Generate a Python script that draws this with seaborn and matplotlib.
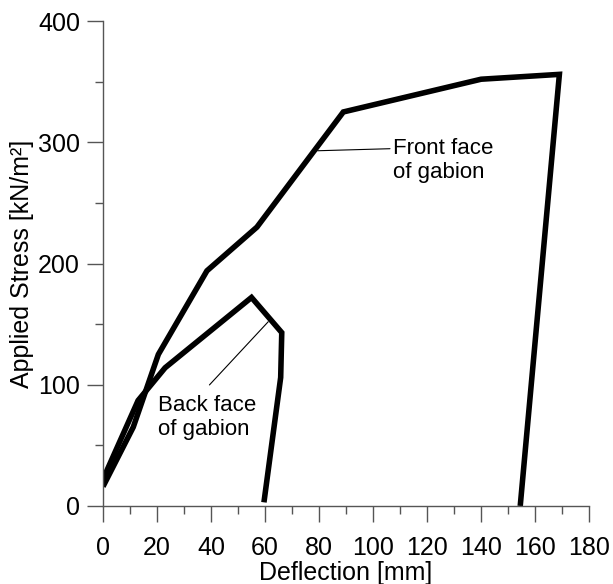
import matplotlib
matplotlib.use("Agg")
import matplotlib.pyplot as plt
import seaborn as sns
import pandas as pd
from matplotlib.ticker import MultipleLocator

# Load-deflection paths for the two faces of the gabion
front_deflection = [0, 11.2, 20.5, 38.5, 57, 89, 140, 169, 154.5]
front_stress = [16, 65, 125, 194, 230, 325, 352, 356, 0]
back_deflection = [0, 13, 23, 55, 66.2, 65.8, 59.6]
back_stress = [22, 87, 114, 172, 143, 106, 3]

x_ticks = [0, 20, 40, 60, 80, 100, 120, 140, 160, 180]
y_ticks = [0, 100, 200, 300, 400]

df = pd.concat([
    pd.DataFrame({"Deflection": front_deflection, "Stress": front_stress,
                  "face": "Front face of gabion"}),
    pd.DataFrame({"Deflection": back_deflection, "Stress": back_stress,
                  "face": "Back face of gabion"}),
], ignore_index=True)

sns.set_style("ticks")
plt.rcParams["font.family"] = ["Liberation Sans", "DejaVu Sans"]
plt.rcParams["text.color"] = "black"
plt.rcParams["axes.labelcolor"] = "black"

fig = plt.figure(figsize=(6.13, 5.84), dpi=100)
ax = fig.add_axes([0.168, 0.1336, 0.793, 0.8304])

sns.lineplot(data=df, x="Deflection", y="Stress", hue="face", sort=False,
             estimator=None, palette=["black", "black"], legend=False,
             linewidth=4.0, ax=ax)
for line in ax.lines:
    line.set_solid_joinstyle("miter")
    line.set_solid_capstyle("butt")

ax.set_xlim(0, 180)
ax.set_ylim(0, 400)
ax.set_xticks(x_ticks)
ax.set_yticks(y_ticks)
ax.xaxis.set_minor_locator(MultipleLocator(10))
ax.yaxis.set_minor_locator(MultipleLocator(50))

spine_color = "#555555"
for side in ("top", "right"):
    ax.spines[side].set_visible(False)
for side in ("left", "bottom"):
    ax.spines[side].set_color(spine_color)
    ax.spines[side].set_linewidth(1.0)

ax.tick_params(axis="both", which="major", length=11.5, width=1.0,
               color=spine_color, labelsize=18, labelcolor="black")
ax.tick_params(axis="both", which="minor", length=5.8, width=1.0,
               color=spine_color)
ax.tick_params(axis="x", which="major", pad=10)
ax.tick_params(axis="y", which="major", pad=5)

ax.set_xlabel("Deflection [mm]", fontsize=18, labelpad=1)
ax.set_ylabel("Applied Stress [kN/m²]", fontsize=18, labelpad=3)

# Curve labels with thin leader lines
ax.annotate("Front face\nof gabion", xy=(79.5, 293), xytext=(107.5, 285),
            fontsize=16, ha="left", va="center", linespacing=1.2,
            arrowprops=dict(arrowstyle="-", color="black", lw=0.8,
                            shrinkA=0, shrinkB=0,
                            relpos=(-0.03, 0.76)))
ax.annotate("Back face\nof gabion", xy=(61.2, 152), xytext=(20.5, 73),
            fontsize=16, ha="left", va="center", linespacing=1.2,
            arrowprops=dict(arrowstyle="-", color="black", lw=0.8,
                            shrinkA=0, shrinkB=0,
                            relpos=(0.52, 1.22)))

fig.savefig("out.png", dpi=100)
